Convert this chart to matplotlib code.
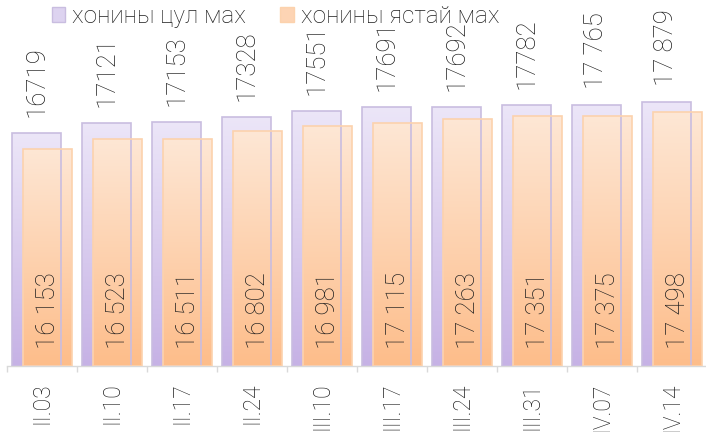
import numpy as np
import matplotlib
matplotlib.use("Agg")
import matplotlib.pyplot as plt
from matplotlib.colors import LinearSegmentedColormap
from matplotlib.patches import Patch

# data
cats = ["II.03", "II.10", "II.17", "II.24", "III.10", "III.17", "III.24", "III.31", "IV.07", "IV.14"]
tsul = [16719, 17121, 17153, 17328, 17551, 17691, 17692, 17782, 17765, 17879]
yastai = [16153, 16523, 16511, 16802, 16981, 17115, 17263, 17351, 17375, 17498]
tsul_labels = ["16719", "17121", "17153", "17328", "17551", "17691", "17692", "17782", "17 765", "17 879"]
yastai_labels = ["16 153", "16 523", "16 511", "16 802", "16 981", "17 115", "17 263", "17 351", "17 375", "17 498"]
names = ["хонины цул мах", "хонины ястай мах"]

plt.rcParams["font.family"] = ["Roboto", "DejaVu Sans"]
txt = "#1f1f1f"
fs = 18.5

fig = plt.figure(figsize=(7.06, 4.32), dpi=100)
ax = fig.add_axes([7.3 / 706, 66 / 432, 700 / 706, 366 / 432])

ymin, ymax = 8100, 21664
x = np.arange(len(cats))
w = 0.7

cm_p = LinearSegmentedColormap.from_list("p", ["#c6b2e5", "#ece6f8"])
cm_o = LinearSegmentedColormap.from_list("o", ["#fdbd8a", "#fee7d5"])
grad = np.linspace(0, 1, 256).reshape(-1, 1)


def gbars(xs, vals, cmap, edge):
    bars = ax.bar(xs, np.array(vals) - ymin, w, bottom=ymin, color="none",
                  edgecolor=edge, linewidth=1.2, zorder=3)
    for b in bars:
        x0, y0 = b.get_x(), b.get_y()
        im = ax.imshow(grad, cmap=cmap, origin="lower", aspect="auto",
                       extent=[x0, x0 + b.get_width(), y0, y0 + b.get_height()],
                       zorder=2)
        im.set_clip_path(b)
    return bars


gbars(x - 0.087, tsul, cm_p, "#c9bde0")
gbars(x + 0.081, yastai, cm_o, "#fcd2ad")

for i in range(len(cats)):
    ax.annotate(tsul_labels[i], (x[i] - 0.087, tsul[i]), xytext=(0, 11.5),
                textcoords="offset points", rotation=90, ha="center", va="bottom",
                fontsize=fs, fontweight="light", color=txt)
    ax.annotate(yastai_labels[i], (x[i] + 0.081, ymin), xytext=(0, 12),
                textcoords="offset points", rotation=90, ha="center", va="bottom",
                fontsize=fs, fontweight="light", color=txt, zorder=5)

ax.set_xlim(-0.5, len(cats) - 0.5)
ax.set_ylim(ymin, ymax)
ax.set_xticks(x)
ax.set_xticklabels(cats, rotation=90, fontsize=16.5, fontweight="light", color=txt)
ax.set_xticks(np.arange(len(cats) + 1) - 0.5, minor=True)
ax.tick_params(axis="x", which="major", length=0, pad=12)
ax.tick_params(axis="x", which="minor", length=4.3, color="#d9d9d9", width=1)
ax.set_yticks([])
for s in ["top", "right", "left"]:
    ax.spines[s].set_visible(False)
ax.spines["bottom"].set_color("#d9d9d9")
ax.spines["bottom"].set_linewidth(1)

handles = [Patch(facecolor="#ddd3f0", edgecolor="#c9bde0"),
           Patch(facecolor="#fdd4b4", edgecolor="#fcd2ad")]
fig.legend(handles, names, loc="upper left", bbox_to_anchor=(42 / 706, 1.01),
           ncol=2, frameon=False, handlelength=0.55, handleheight=0.55,
           handletextpad=0.3, columnspacing=1.4, borderaxespad=0,
           prop={"weight": "light", "size": 17.5})
for t in fig.legends[0].get_texts():
    t.set_color(txt)

fig.savefig("out.png", dpi=100)
